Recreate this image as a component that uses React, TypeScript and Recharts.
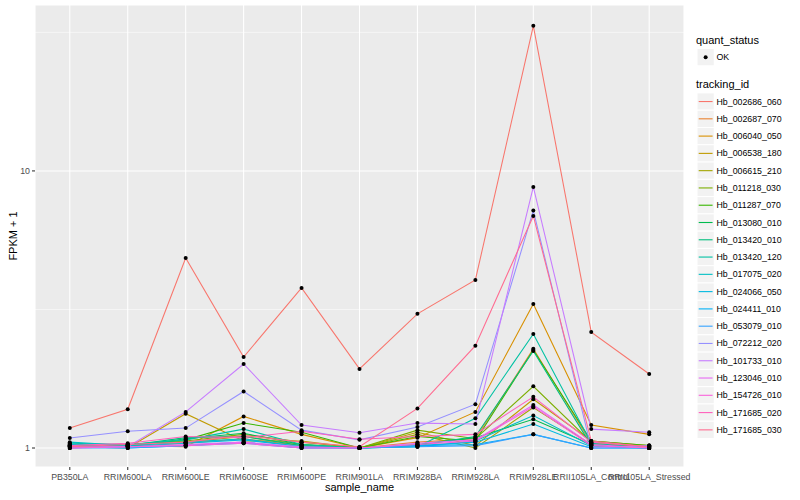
import React from 'react';
import { LineChart, Line, XAxis, YAxis, CartesianGrid, ReferenceLine } from 'recharts';

const categories = [
  'PB350LA', 'RRIM600LA', 'RRIM600LE', 'RRIM600SE', 'RRIM600PE', 'RRIM901LA',
  'RRIM928BA', 'RRIM928LA', 'RRIM928LE', 'RRII105LA_Control', 'RRII105LA_Stressed',
];

const trackingIds = [
  'Hb_002686_060', 'Hb_002687_070', 'Hb_006040_050', 'Hb_006538_180', 'Hb_006615_210',
  'Hb_011218_030', 'Hb_011287_070', 'Hb_013080_010', 'Hb_013420_010', 'Hb_013420_120',
  'Hb_017075_020', 'Hb_024066_050', 'Hb_024411_010', 'Hb_053079_010', 'Hb_072212_020',
  'Hb_101733_010', 'Hb_123046_010', 'Hb_154726_010', 'Hb_171685_020', 'Hb_171685_030',
];

const colors = [
  '#F8766D', '#EA8331', '#D89000', '#C09B00', '#A3A500', '#7CAE00', '#39B600', '#00BB4E',
  '#00BF7D', '#00C1A3', '#00BFC4', '#00BAE0', '#00B0F6', '#35A2FF', '#9590FF', '#C77CFF',
  '#E76BF3', '#FA62DB', '#FF62BC', '#FF6C91',
];

// FPKM + 1 values per tracking id, in category order
const hb002686060 = [1.18, 1.38, 4.85, 2.13, 3.78, 1.93, 3.05, 4.04, 33.4, 2.62, 1.85];
const hb002687070 = [1.02, 1.01, 1.04, 1.08, 1.02, 1.0, 1.05, 1.08, 2.28, 1.04, 1.01];
const hb006040050 = [1.0, 1.02, 1.01, 1.3, 1.12, 1.0, 1.09, 1.35, 3.31, 1.21, 1.12];
const hb006538180 = [1.01, 1.0, 1.33, 1.06, 1.06, 1.0, 1.14, 1.02, 1.5, 1.06, 1.02];
const hb006615210 = [1.02, 1.03, 1.05, 1.1, 1.03, 1.0, 1.12, 1.0, 1.4, 1.03, 1.01];
const hb011218030 = [1.01, 1.02, 1.06, 1.12, 1.05, 1.0, 1.16, 1.08, 1.67, 1.05, 1.01];
const hb011287070 = [1.02, 1.02, 1.07, 1.23, 1.14, 1.0, 1.1, 1.06, 2.26, 1.06, 1.02];
const hb013080010 = [1.01, 1.01, 1.08, 1.13, 1.03, 1.0, 1.03, 1.09, 1.27, 1.03, 1.0];
const hb013420010 = [1.03, 1.02, 1.09, 1.1, 1.02, 1.0, 1.02, 1.1, 2.24, 1.02, 1.0];
const hb013420120 = [1.04, 1.03, 1.07, 1.17, 1.03, 1.0, 1.01, 1.28, 2.58, 1.04, 1.0];
const hb017075020 = [1.05, 1.02, 1.05, 1.08, 1.01, 1.0, 1.01, 1.06, 1.31, 1.02, 1.0];
const hb024066050 = [1.03, 1.01, 1.04, 1.07, 1.01, 1.0, 1.02, 1.05, 1.22, 1.01, 1.0];
const hb024411010 = [1.01, 1.0, 1.02, 1.05, 1.0, 1.0, 1.02, 1.03, 1.12, 1.0, 1.0];
const hb053079010 = [1.0, 1.0, 1.02, 1.04, 1.0, 1.0, 1.01, 1.02, 1.12, 1.0, 1.0];
const hb072212020 = [1.087, 1.15, 1.18, 1.6, 1.16, 1.07, 1.19, 1.44, 7.19, 1.0, 1.02];
const hb101733010 = [1.0, 1.01, 1.35, 2.01, 1.21, 1.136, 1.23, 1.22, 8.75, 1.17, 1.14];
const hb123046010 = [1.01, 1.01, 1.03, 1.05, 1.01, 1.0, 1.04, 1.07, 1.43, 1.03, 1.0];
const hb154726010 = [1.0, 1.01, 1.02, 1.04, 1.0, 1.0, 1.03, 1.06, 1.41, 1.02, 1.0];
const hb171685020 = [1.02, 1.04, 1.1, 1.09, 1.15, 1.075, 1.1, 1.12, 1.53, 1.05, 1.01];
const hb171685030 = [1.01, 1.03, 1.05, 1.11, 1.05, 1.01, 1.39, 2.34, 6.88, 1.06, 1.01];

const seriesValues = [
  hb002686060, hb002687070, hb006040050, hb006538180, hb006615210,
  hb011218030, hb011287070, hb013080010, hb013420010, hb013420120,
  hb017075020, hb024066050, hb024411010, hb053079010, hb072212020,
  hb101733010, hb123046010, hb154726010, hb171685020, hb171685030,
];

const yTicks = [1, 10];
const yMinorTicks = [3.1623, 31.623];
const yDomain = [0.854, 39.7];

const data = categories.map((name, i) => {
  const row: Record<string, any> = { name };
  trackingIds.forEach((id, k) => {
    row[id] = seriesValues[k][i];
  });
  return row;
});

const FONT = '"Liberation Sans", Arial, Helvetica, sans-serif';

const YTitle = (props: any) => {
  const vb = props && props.viewBox ? props.viewBox : { x: 0, y: 5, width: 35, height: 462 };
  const cx = vb.x + 13;
  const cy = vb.y + vb.height / 2;
  return (
    <text
      x={cx}
      y={cy}
      transform={`rotate(-90 ${cx} ${cy})`}
      textAnchor="middle"
      dominantBaseline="central"
      fontSize={11}
      fill="#000000"
      fontFamily={FONT}
    >
      FPKM + 1
    </text>
  );
};

const KEY = 17.28;

const LegendBox = () => {
  const ox = 690;
  const itemTop = 92.9;
  return (
    <svg
      width={110}
      height={500}
      style={{ position: 'absolute', left: ox, top: 0 }}
    >
      <text x={6} y={44} fontSize={11} fill="#000" fontFamily={FONT}>quant_status</text>
      <rect x={7} y={48.5} width={KEY} height={KEY} fill="#F2F2F2" stroke="#FFFFFF" strokeWidth={1} />
      <circle cx={7 + KEY / 2} cy={48.5 + KEY / 2} r={2} fill="#000" />
      <text x={26.5} y={48.5 + KEY / 2} dominantBaseline="central" fontSize={8.8} fill="#000" fontFamily={FONT}>OK</text>
      <text x={6} y={88} fontSize={11} fill="#000" fontFamily={FONT}>tracking_id</text>
      {trackingIds.map((id, i) => {
        const y0 = itemTop + i * KEY;
        return (
          <g key={id}>
            <rect x={7} y={y0} width={KEY} height={KEY} fill="#F2F2F2" stroke="#FFFFFF" strokeWidth={1} />
            <line x1={8.7} x2={7 + KEY - 1.7} y1={y0 + KEY / 2} y2={y0 + KEY / 2} stroke={colors[i]} strokeWidth={1.1} />
            <text x={26.5} y={y0 + KEY / 2} dominantBaseline="central" fontSize={8.8} fill="#000" fontFamily={FONT}>{id}</text>
          </g>
        );
      })}
    </svg>
  );
};

export default function App() {
  return (
    <div style={{ position: 'absolute', left: 0, top: 0, width: 800, height: 500, background: '#FFFFFF', fontFamily: FONT }}>
      <LineChart width={800} height={500} data={data} margin={{ top: 5, right: 116, bottom: 0, left: 0 }}>
        <CartesianGrid fill="#EBEBEB" fillOpacity={1} stroke="#FFFFFF" strokeWidth={1.07} />
        {yMinorTicks.map((v) => (
          <ReferenceLine key={v} y={v} stroke="#FFFFFF" strokeWidth={0.55} />
        ))}
        <XAxis
          dataKey="name"
          type="category"
          scale="point"
          interval={0}
          height={33}
          padding={{ left: 34.8, right: 34.8 }}
          axisLine={false}
          tickSize={3}
          tickMargin={3.5}
          tickLine={{ stroke: '#333333', strokeWidth: 1.07 }}
          tick={{ fill: '#4D4D4D', fontSize: 8.8, fontFamily: FONT }}
          label={{ value: 'sample_name', position: 'insideBottom', offset: 9, fill: '#000000', fontSize: 11, fontFamily: FONT }}
        />
        <YAxis
          type="number"
          scale="log"
          domain={yDomain}
          allowDataOverflow
          ticks={yTicks}
          width={35}
          axisLine={false}
          tickSize={3}
          tickMargin={2}
          tickLine={{ stroke: '#333333', strokeWidth: 1.07 }}
          tick={{ fill: '#4D4D4D', fontSize: 8.8, fontFamily: FONT }}
          tickFormatter={(v: number) => String(v)}
          label={YTitle}
        />
        {trackingIds.map((id, k) => (
          <Line
            key={`l-${id}`}
            dataKey={id}
            type="linear"
            stroke={colors[k]}
            strokeWidth={1.07}
            dot={false}
            activeDot={false}
            isAnimationActive={false}
          />
        ))}
        {trackingIds.map((id) => (
          <Line
            key={`p-${id}`}
            dataKey={id}
            type="linear"
            stroke="none"
            dot={{ r: 2, fill: '#000000', stroke: 'none' }}
            activeDot={false}
            legendType="none"
            isAnimationActive={false}
          />
        ))}
      </LineChart>
      <LegendBox />
    </div>
  );
}
